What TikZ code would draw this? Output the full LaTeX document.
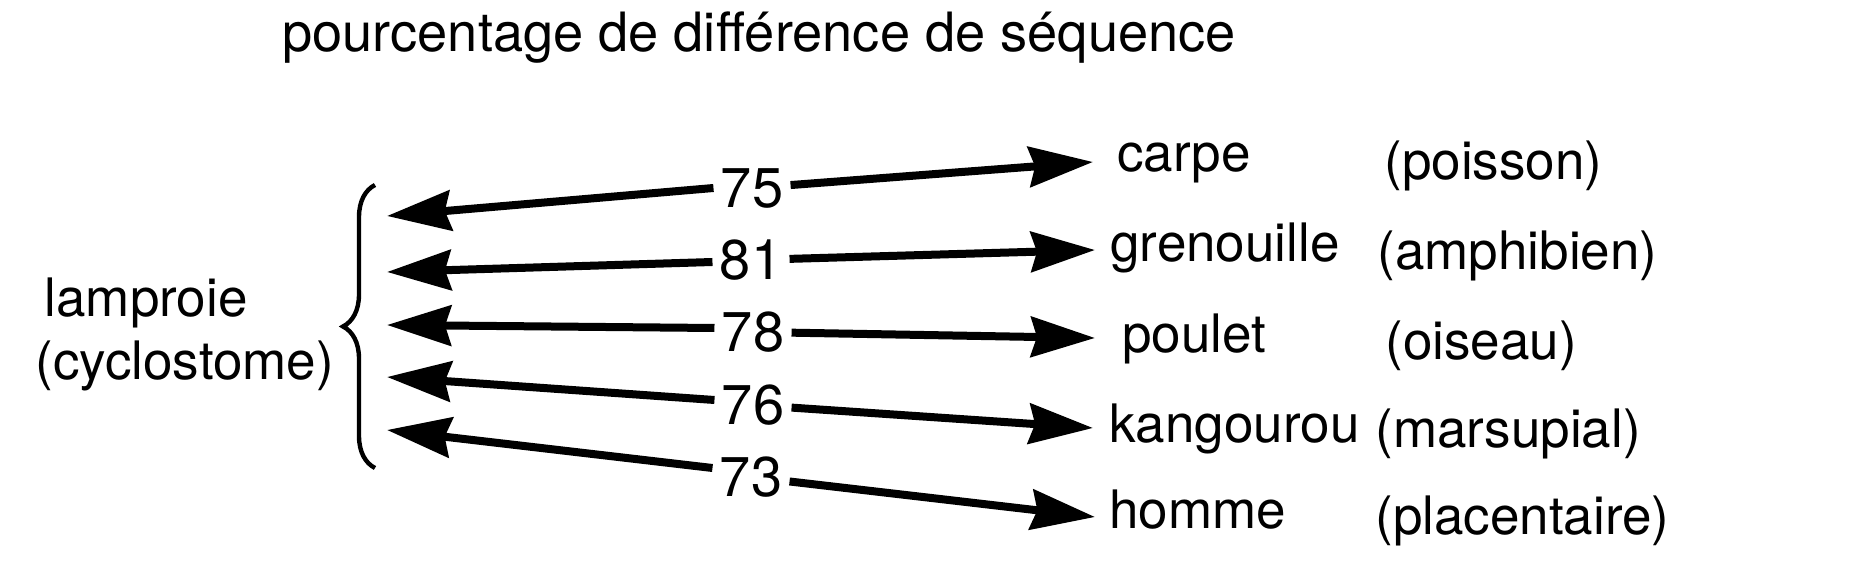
\documentclass[tikz,border=0pt]{standalone}
\usepackage{fontspec}
\setmainfont{TeX Gyre Heros}
\usetikzlibrary{arrows.meta,decorations.pathreplacing}
\begin{document}
\begin{tikzpicture}[x=0.5pt,y=-0.5pt,
  lbl/.style={anchor=base west,inner sep=0pt,font=\fontsize{26.5}{31}\selectfont},
  num/.style={inner xsep=3.5pt,inner ysep=1pt,font=\fontsize{28}{33}\selectfont},
  arr/.style={line width=4pt,-{Stealth[length=32pt,width=20pt,inset=3pt]}},
  brc/.style={line width=2.2pt,decorate,decoration={brace,amplitude=16pt}}]
\useasboundingbox (0,0) rectangle (1856,576);
% title
\node[lbl,font=\fontsize{27.1}{32}\selectfont] (title) at (282,52) {pourcentage de différence de séquence};
% left group
\node[lbl] (lam) at (44,317) {lamproie};
\node[lbl] (cyc) at (35,380) {(cyclostome)};
\coordinate (btop) at (375,185);
\coordinate (bbot) at (375,468);
\draw[brc] (bbot) -- (btop);
% species
\node[lbl] (s1) at (1117,172) {carpe};
\node[lbl] (s2) at (1110,262) {grenouille};
\node[lbl] (s3) at (1122,353) {poulet};
\node[lbl] (s4) at (1109,443) {kangourou};
\node[lbl] (s5) at (1109,528) {homme};
% classes
\node[lbl] (c1) at (1384,180) {(poisson)};
\node[lbl] (c2) at (1377,270) {(amphibien)};
\node[lbl] (c3) at (1385,360) {(oiseau)};
\node[lbl] (c4) at (1375,448) {(marsupial)};
\node[lbl] (c5) at (1375,534) {(placentaire)};
% numbers
\node[num] (n1) at (752,188) {75};
\node[num] (n2) at (751,260) {81};
\node[num] (n3) at (753,332) {78};
\node[num] (n4) at (753,405) {76};
\node[num] (n5) at (751,477) {73};
% arrow tips
\coordinate (l1) at (387,216);
\coordinate (l2) at (387,272);
\coordinate (l3) at (387,325);
\coordinate (l4) at (387,377);
\coordinate (l5) at (387,430);
\coordinate (r1) at (1093,162);
\coordinate (r2) at (1095,250);
\coordinate (r3) at (1095,338);
\coordinate (r4) at (1093,428);
\coordinate (r5) at (1095,517);
% arrows
\draw[arr] (n1.west) -- (l1);
\draw[arr] ([yshift=-1pt]n2.west) -- (l2);
\draw[arr] ([yshift=2pt]n3.west) -- (l3);
\draw[arr] ([yshift=2.5pt]n4.west) -- (l4);
\draw[arr] ([yshift=4.5pt]n5.west) -- (l5);
\draw[arr] (n1) -- (r1);
\draw[arr] (n2) -- (r2);
\draw[arr] (n3) -- (r3);
\draw[arr] (n4) -- (r4);
\draw[arr] (n5) -- (r5);
\end{tikzpicture}
\end{document}
